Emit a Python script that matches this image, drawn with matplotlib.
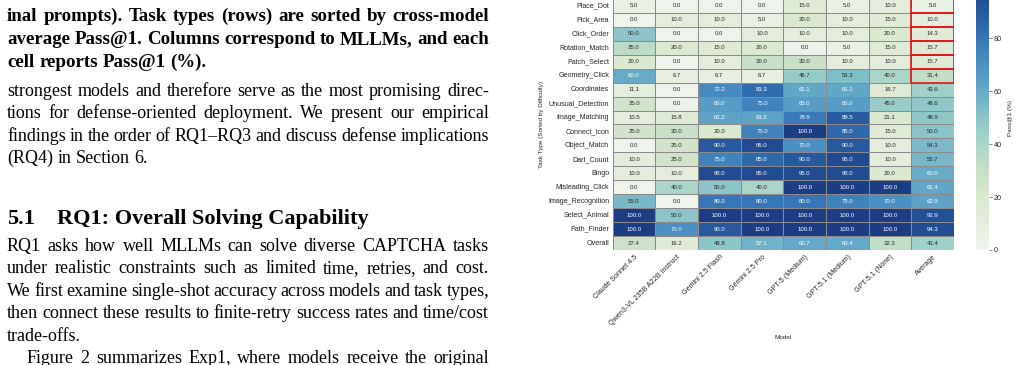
import matplotlib
matplotlib.use("Agg")
import matplotlib.pyplot as plt
import seaborn as sns
import numpy as np
import pandas as pd
from matplotlib.colors import LinearSegmentedColormap
from matplotlib.patches import Rectangle
from matplotlib.font_manager import FontProperties

# ---------------- data ----------------
tasks = ["Place_Dot", "Pick_Area", "Click_Order", "Rotation_Match", "Patch_Select",
         "Geometry_Click", "Coordinates", "Unusual_Detection", "Image_Matching",
         "Connect_Icon", "Object_Match", "Dart_Count", "Bingo", "Misleading_Click",
         "Image_Recognition", "Select_Animal", "Path_Finder", "Overall"]
models = ["Claude Sonnet 4.5", "Qwen3-VL 235B A22B Instruct", "Gemini 2.5 Flash",
          "Gemini 2.5 Pro", "GPT-5 (Medium)", "GPT-5.1 (Medium)", "GPT-5.1 (None)", "Average"]

claude = [5.0, 0.0, 50.0, 35.0, 20.0, 60.0, 11.1, 25.0, 10.5, 25.0, 0.0, 10.0, 10.0, 0.0, 55.0, 100.0, 100.0, 27.4]
qwen = [0.0, 10.0, 0.0, 20.0, 0.0, 6.7, 0.0, 0.0, 15.8, 30.0, 25.0, 25.0, 10.0, 40.0, 0.0, 50.0, 70.0, 16.2]
gem_flash = [0.0, 10.0, 0.0, 15.0, 10.0, 6.7, 72.2, 65.0, 63.2, 20.0, 90.0, 75.0, 95.0, 50.0, 80.0, 100.0, 90.0, 49.8]
gem_pro = [0.0, 5.0, 10.0, 20.0, 30.0, 6.7, 83.3, 75.0, 63.2, 75.0, 95.0, 85.0, 95.0, 40.0, 80.0, 100.0, 100.0, 57.1]
gpt5_med = [15.0, 20.0, 10.0, 0.0, 30.0, 46.7, 61.1, 65.0, 78.9, 100.0, 70.0, 90.0, 95.0, 100.0, 80.0, 100.0, 100.0, 60.7]
gpt51_med = [5.0, 10.0, 10.0, 5.0, 10.0, 53.3, 61.1, 65.0, 89.5, 85.0, 90.0, 95.0, 95.0, 100.0, 75.0, 100.0, 100.0, 60.4]
gpt51_none = [10.0, 15.0, 20.0, 15.0, 10.0, 40.0, 16.7, 45.0, 21.1, 15.0, 10.0, 10.0, 20.0, 100.0, 70.0, 100.0, 100.0, 32.3]
average = [5.0, 10.0, 14.3, 15.7, 15.7, 31.4, 43.6, 48.6, 48.9, 50.0, 54.3, 55.7, 60.0, 61.4, 62.9, 92.9, 94.3, 43.4]
highlighted_rows = ["Place_Dot", "Pick_Area", "Click_Order", "Rotation_Match", "Patch_Select", "Geometry_Click"]
cbar_ticks = [0, 20, 40, 60, 80]

caption_lines = [
    "inal prompts). Task types (rows) are sorted by cross-model",
    "average Pass@1. Columns correspond to MLLMs, and each",
    "cell reports Pass@1 (%).",
]
body_lines_a = [
    "strongest models and therefore serve as the most promising direc-",
    "tions for defense-oriented deployment. We present our empirical",
    "findings in the order of RQ1\u2013RQ3 and discuss defense implications",
    "(RQ4) in Section 6.",
]
heading_num = "5.1"
heading_text = "RQ1: Overall Solving Capability"
body_lines_b = [
    "RQ1 asks how well MLLMs can solve diverse CAPTCHA tasks",
    "under realistic constraints such as limited time, retries, and cost.",
    "We first examine single-shot accuracy across models and task types,",
    "then connect these results to finite-retry success rates and time/cost",
    "trade-offs.",
    "Figure 2 summarizes Exp1, where models receive the original",
]

# ---------------- figure ----------------
W, H = 1019, 365
fig = plt.figure(figsize=(W / 100, H / 100), dpi=100)
renderer = fig.canvas.get_renderer()


def fx(x):
    return x / W


def fy(y):
    return 1 - y / H


serif = FontProperties(family="Liberation Serif", size=13.0)
serif_b = FontProperties(family="Liberation Serif", size=13.6, weight="bold")
serif_h = FontProperties(family="Liberation Serif", size=16, weight="bold")


def put_line(text, base_y, x0, x1, fp, justify):
    words = text.split(" ")
    arts = [fig.text(fx(x0), fy(base_y), w, fontproperties=fp, ha="left",
                     va="baseline", color="black") for w in words]
    widths = [a.get_window_extent(renderer).width for a in arts]
    if justify and len(words) > 1:
        gap = (x1 - x0 - sum(widths)) / (len(words) - 1)
    else:
        sp = fig.text(0, 0, "a a", fontproperties=fp)
        sp2 = fig.text(0, 0, "aa", fontproperties=fp)
        gap = sp.get_window_extent(renderer).width - sp2.get_window_extent(renderer).width
        sp.remove()
        sp2.remove()
    x = x0
    for a, w in zip(arts, widths):
        a.set_x(fx(x))
        x += w + gap


X0, X1 = 7, 489
LS = 22.4
cap_base = [21, 44, 67]
for i, t in enumerate(caption_lines):
    put_line(t, cap_base[i], X0, X1, serif_b, i < len(caption_lines) - 1)
for i, t in enumerate(body_lines_a):
    put_line(t, 96 + i * LS, X0, X1, serif, i < len(body_lines_a) - 1)
fig.text(fx(X0), fy(224), heading_num, fontproperties=serif_h, ha="left", va="baseline")
fig.text(fx(57), fy(224), heading_text, fontproperties=serif_h, ha="left", va="baseline")
for i, t in enumerate(body_lines_b):
    x0 = X0 + 20 if t.startswith("Figure") else X0
    put_line(t, 251 + i * LS, x0, X1, serif, not t.startswith("trade"))

# ---------------- heatmap ----------------
cmap = LinearSegmentedColormap.from_list("pass", [
    (0.0, "#eef3ec"), (0.1, "#e4eddc"), (0.2, "#dbe9cf"), (0.3, "#c8e0c6"),
    (0.4, "#a9d5c9"), (0.5, "#8cc6c9"), (0.6, "#66aac8"), (0.7, "#4b90c3"),
    (0.8, "#3776b6"), (0.9, "#275aa0"), (1.0, "#1a3d84")])

df = pd.DataFrame({m: v for m, v in zip(models, [claude, qwen, gem_flash, gem_pro,
                                                  gpt5_med, gpt51_med, gpt51_none, average])},
                  index=tasks)

ax = fig.add_axes([fx(612.7), fy(250), 341.3 / W, 251 / H])
cax = fig.add_axes([fx(975.7), fy(250), 13.3 / W, 264.5 / H])
sns.heatmap(df, ax=ax, cbar_ax=cax, cmap=cmap, vmin=0, vmax=100, annot=True, fmt=".1f",
            annot_kws={"fontsize": 4.3, "family": "Liberation Sans"},
            linewidths=0.6, linecolor="#8a8a8a")

avg_col = models.index("Average")
for r in highlighted_rows:
    i = tasks.index(r)
    ax.add_patch(Rectangle((avg_col, i), 1, 1, fill=False, edgecolor="#e8141a", lw=1.2, zorder=5))

ax.set_yticks(np.arange(len(tasks)) + 0.5)
ax.set_yticklabels(tasks, rotation=0, fontsize=5.15, family="Liberation Sans", color="#262626")
ax.set_xticks(np.arange(len(models)) + 0.5)
ax.set_xticklabels(models, rotation=45, ha="right", rotation_mode="anchor",
                   fontsize=5.15, family="Liberation Sans", color="#262626")
ax.tick_params(length=0, pad=2.5)
ax.set_xlabel("Model", fontsize=4.6, family="Liberation Sans", color="#262626", labelpad=6)
ax.set_ylabel("Task Type (Sorted by Difficulty)", fontsize=4.6, family="Liberation Sans",
              color="#262626", labelpad=3)

cax.set_yticks(cbar_ticks)
cax.tick_params(labelsize=5.2, length=2, width=0.5, color="#555555", pad=1.5, labelcolor="#262626")
for lab in cax.get_yticklabels():
    lab.set_family("Liberation Sans")
cax.set_ylabel("Pass@1 (%)", fontsize=4.6, family="Liberation Sans", color="#262626", labelpad=4)
for s in cax.spines.values():
    s.set_visible(False)

fig.savefig("out.png", dpi=100)
